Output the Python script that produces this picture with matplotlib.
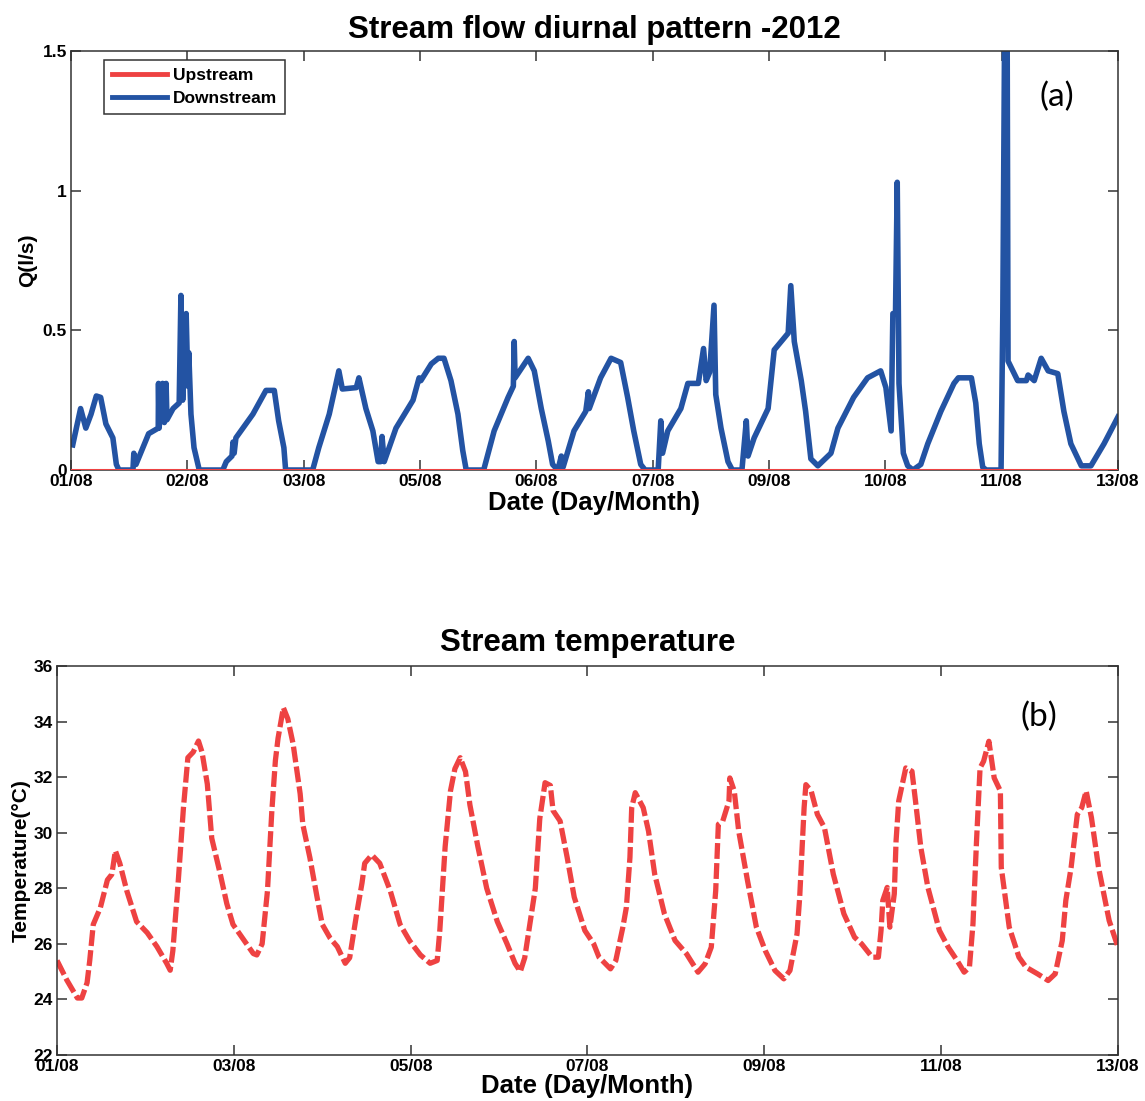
import matplotlib
matplotlib.use("Agg")
import matplotlib.pyplot as plt

plt.rcParams['font.family'] = ['Liberation Sans', 'DejaVu Sans']

# ---- data: stream flow (days since 01/08, Q in l/s) ----
down_days = [0.02, 0.11, 0.17, 0.23, 0.29, 0.34, 0.40, 0.48, 0.52, 0.55,
             0.71, 0.72, 0.745, 0.89, 1.0, 1.003, 1.01, 1.05, 1.07, 1.09,
             1.10, 1.17, 1.24, 1.26, 1.28, 1.32, 1.34, 1.35, 1.375, 1.41,
             1.47, 1.74, 1.78, 1.845, 1.857, 1.87, 1.89, 2.085, 2.235, 2.33,
             2.38, 2.44, 2.46, 2.77, 2.84, 2.96, 3.07, 3.11, 3.27, 3.30,
             3.38, 3.46, 3.52, 3.55, 3.565, 3.59, 3.725, 3.92, 3.99, 4.01,
             4.13, 4.21, 4.275, 4.355, 4.435, 4.49, 4.53, 4.73, 4.85, 5.01,
             5.07, 5.08, 5.09, 5.24, 5.31, 5.39, 5.47, 5.52, 5.58, 5.62,
             5.64, 5.765, 5.90, 5.93, 5.94, 6.07, 6.19, 6.30, 6.38, 6.45,
             6.53, 6.58, 6.73, 6.76, 6.78, 6.84, 6.99, 7.07, 7.19, 7.25,
             7.28, 7.32, 7.37, 7.39, 7.45, 7.53, 7.58, 7.69, 7.74, 7.76,
             7.83, 7.99, 8.06, 8.14, 8.22, 8.25, 8.29, 8.37, 8.42, 8.48,
             8.56, 8.71, 8.79, 8.97, 9.13, 9.28, 9.34, 9.40, 9.42, 9.45,
             9.47, 9.49, 9.54, 9.59, 9.65, 9.74, 9.82, 9.97, 10.12, 10.17,
             10.32, 10.37, 10.41, 10.45, 10.49, 10.66, 10.68, 10.70, 10.73, 10.74,
             10.85, 10.95, 10.97, 11.04, 11.12, 11.20, 11.31, 11.38, 11.46, 11.58,
             11.69, 11.84, 12.0]
down_q = [0.09, 0.22, 0.15, 0.20, 0.265, 0.26, 0.165, 0.115, 0.02, 0.0,
          0.0, 0.06, 0.02, 0.13, 0.15, 0.31, 0.15, 0.31, 0.17, 0.31,
          0.18, 0.22, 0.24, 0.625, 0.25, 0.56, 0.30, 0.42, 0.2, 0.08,
          0.0, 0.0, 0.03, 0.05, 0.1, 0.06, 0.115, 0.2, 0.285, 0.285,
          0.176, 0.08, 0.0, 0.0, 0.08, 0.2, 0.355, 0.29, 0.295, 0.33,
          0.22, 0.14, 0.03, 0.03, 0.12, 0.03, 0.15, 0.25, 0.33, 0.32,
          0.38, 0.40, 0.40, 0.32, 0.2, 0.07, 0.0, 0.0, 0.14, 0.26,
          0.30, 0.46, 0.33, 0.40, 0.355, 0.22, 0.104, 0.02, 0.0, 0.05,
          0.01, 0.14, 0.21, 0.28, 0.22, 0.33, 0.40, 0.385, 0.26, 0.14,
          0.02, 0.0, 0.0, 0.176, 0.06, 0.14, 0.22, 0.31, 0.31, 0.435,
          0.32, 0.35, 0.59, 0.27, 0.15, 0.03, 0.0, 0.0, 0.176, 0.05,
          0.115, 0.22, 0.43, 0.46, 0.49, 0.66, 0.46, 0.32, 0.21, 0.04,
          0.015, 0.06, 0.15, 0.26, 0.33, 0.355, 0.295, 0.14, 0.56, 0.56,
          1.03, 0.31, 0.06, 0.015, 0.0, 0.02, 0.094, 0.21, 0.31, 0.33,
          0.33, 0.24, 0.094, 0.01, 0.0, 0.0, 0.56, 1.55, 1.55, 0.39,
          0.32, 0.32, 0.34, 0.32, 0.40, 0.355, 0.345, 0.21, 0.094, 0.015,
          0.015, 0.094, 0.19]
up_days = [0, 12]
up_q = [0, 0]
flow_tick_labels = ['01/08', '02/08', '03/08', '05/08', '06/08',
                    '07/08', '09/08', '10/08', '11/08', '13/08']

# ---- data: stream temperature (days since 01/08, deg C) ----
temp_days = [0.0, 0.11, 0.23, 0.28, 0.34, 0.37, 0.41, 0.49, 0.57, 0.62,
             0.66, 0.71, 0.79, 0.90, 1.02, 1.13, 1.24, 1.28, 1.31, 1.37,
             1.43, 1.48, 1.54, 1.60, 1.64, 1.70, 1.75, 1.84, 1.92, 1.99,
             2.10, 2.22, 2.26, 2.32, 2.38, 2.43, 2.47, 2.50, 2.56, 2.61,
             2.67, 2.75, 2.78, 2.86, 2.94, 3.00, 3.09, 3.17, 3.26, 3.31,
             3.39, 3.45, 3.48, 3.56, 3.65, 3.77, 3.88, 3.99, 4.11, 4.22,
             4.30, 4.33, 4.39, 4.45, 4.50, 4.56, 4.62, 4.67, 4.76, 4.86,
             4.98, 5.09, 5.18, 5.24, 5.29, 5.41, 5.46, 5.52, 5.58, 5.61,
             5.69, 5.77, 5.85, 5.97, 6.07, 6.13, 6.26, 6.32, 6.40, 6.44,
             6.48, 6.50, 6.54, 6.63, 6.69, 6.76, 6.87, 6.99, 7.12, 7.25,
             7.33, 7.40, 7.45, 7.48, 7.53, 7.60, 7.61, 7.66, 7.71, 7.81,
             7.91, 8.01, 8.12, 8.22, 8.29, 8.37, 8.40, 8.45, 8.47, 8.53,
             8.60, 8.68, 8.78, 8.90, 9.02, 9.10, 9.22, 9.29, 9.32, 9.34,
             9.39, 9.42, 9.47, 9.49, 9.52, 9.60, 9.67, 9.71, 9.77, 9.85,
             9.98, 10.08, 10.18, 10.26, 10.32, 10.36, 10.40, 10.44, 10.48, 10.54,
             10.60, 10.67, 10.68, 10.77, 10.88, 10.96, 11.09, 11.21, 11.29, 11.37,
             11.41, 11.47, 11.54, 11.59, 11.64, 11.70, 11.78, 11.90, 12.0]
temp_c = [25.4, 24.7, 24.05, 24.05, 24.6, 25.4, 26.7, 27.3, 28.3, 28.5,
          29.35, 28.9, 27.9, 26.8, 26.4, 25.9, 25.3, 25.05, 25.75, 28.2,
          30.9, 32.7, 32.9, 33.3, 32.9, 31.75, 29.8, 28.6, 27.45, 26.7,
          26.2, 25.65, 25.6, 26.0, 27.9, 30.8, 32.6, 33.4, 34.5, 34.1,
          33.2, 31.4, 30.3, 29.1, 27.7, 26.7, 26.2, 25.9, 25.3, 25.5,
          27.1, 28.2, 28.9, 29.2, 28.9, 27.9, 26.7, 26.1, 25.6, 25.3,
          25.4, 26.5, 29.5, 31.5, 32.3, 32.7, 32.2, 31.0, 29.5, 28.0,
          26.8, 26.0, 25.3, 25.0, 25.5, 28.0, 30.5, 31.8, 31.7, 30.8,
          30.42, 29.11, 27.68, 26.48, 26.0, 25.52, 25.1, 25.4, 26.6, 27.32,
          29.11, 30.9, 31.44, 30.9, 30.06, 28.51, 27.08, 26.12, 25.64, 24.98,
          25.28, 25.88, 27.91, 30.3, 30.42, 31.14, 31.97, 31.5, 30.06, 28.27,
          26.6, 25.76, 25.04, 24.74, 25.04, 26.36, 27.68, 30.9, 31.73, 31.5,
          30.66, 30.18, 28.51, 27.08, 26.24, 26.0, 25.52, 25.52, 26.48, 27.56,
          28.03, 26.6, 27.8, 29.7, 31.14, 32.33, 32.21, 31.14, 29.47, 28.03,
          26.48, 25.88, 25.4, 24.98, 25.16, 26.72, 29.7, 32.33, 32.57, 33.29,
          31.97, 31.5, 28.75, 26.6, 25.52, 25.16, 24.92, 24.68, 24.92, 26.12,
          27.56, 28.75, 30.66, 30.9, 31.5, 30.54, 28.75, 26.84, 25.88]
temp_ticks = [0, 2, 4, 6, 8, 10, 12]
temp_tick_labels = ['01/08', '03/08', '05/08', '07/08', '09/08', '11/08', '13/08']

BLUE = '#2353a3'
RED = '#ee4242'


def style_axes(ax):
    for s in ax.spines.values():
        s.set_linewidth(1.1)
        s.set_color('#333333')
    ax.tick_params(direction='in', top=True, right=True, length=7, width=1.1,
                   color='#333333', labelsize=12.5, pad=3)
    for lab in ax.get_xticklabels() + ax.get_yticklabels():
        lab.set_fontweight('bold')


fig = plt.figure(figsize=(11.45, 11.01), dpi=100)

# ---- (a) stream flow ----
ax1 = fig.add_axes([0.062, 0.5731, 0.9144, 0.3806])
ax1.plot(down_days, down_q, color=BLUE, lw=4, label='Downstream', zorder=2)
ax1.plot(up_days, up_q, color=RED, lw=2.2, label='Upstream', zorder=3)
ax1.set_xlim(0, 12)
ax1.set_ylim(0, 1.5)
ax1.set_xticks([12 * i / 9 for i in range(10)])
ax1.set_xticklabels(flow_tick_labels)
ax1.set_yticks([0, 0.5, 1, 1.5])
ax1.set_yticklabels(['0', '0.5', '1', '1.5'])
style_axes(ax1)
ax1.set_title('Stream flow diurnal pattern -2012', fontsize=22.5,
              fontweight='bold', pad=9)
ax1.set_xlabel('Date (Day/Month)', fontsize=18.5, fontweight='bold', labelpad=1)
ax1.set_ylabel('Q(l/s)', fontsize=15, fontweight='bold', labelpad=4)
h, l = ax1.get_legend_handles_labels()
leg = ax1.legend(h[::-1], l[::-1], loc='upper left', bbox_to_anchor=(0.0315, 0.978),
                 borderaxespad=0, fancybox=False, edgecolor='#333333', framealpha=1,
                 prop={'weight': 'bold', 'size': 12.5}, handlelength=3.2,
                 handletextpad=0.3, borderpad=0.45, labelspacing=0.45)
leg.get_frame().set_linewidth(1.1)
for line in leg.get_lines():
    line.set_linewidth(3.5)
ax1.text(0.925, 0.89, '(a)', transform=ax1.transAxes, fontsize=24,
         family=['Lato', 'DejaVu Sans'], ha='left', va='center')

# ---- (b) stream temperature ----
ax2 = fig.add_axes([0.0498, 0.0418, 0.9266, 0.3533])
ax2.plot(temp_days, temp_c, color=RED, lw=3.8, ls='--', dashes=(3, 0.8))
ax2.set_xlim(0, 12)
ax2.set_ylim(22, 36)
ax2.set_xticks(temp_ticks)
ax2.set_xticklabels(temp_tick_labels)
ax2.set_yticks(range(22, 37, 2))
style_axes(ax2)
ax2.set_title('Stream temperature', fontsize=22.5, fontweight='bold', pad=11)
ax2.set_xlabel('Date (Day/Month)', fontsize=18.5, fontweight='bold', labelpad=0)
ax2.set_ylabel('Temperature(\u00b0C)', fontsize=15, fontweight='bold', labelpad=2)
ax2.text(0.908, 0.87, '(b)', transform=ax2.transAxes, fontsize=24,
         family=['Lato', 'DejaVu Sans'], ha='left', va='center')

fig.savefig('out.png', dpi=100)
